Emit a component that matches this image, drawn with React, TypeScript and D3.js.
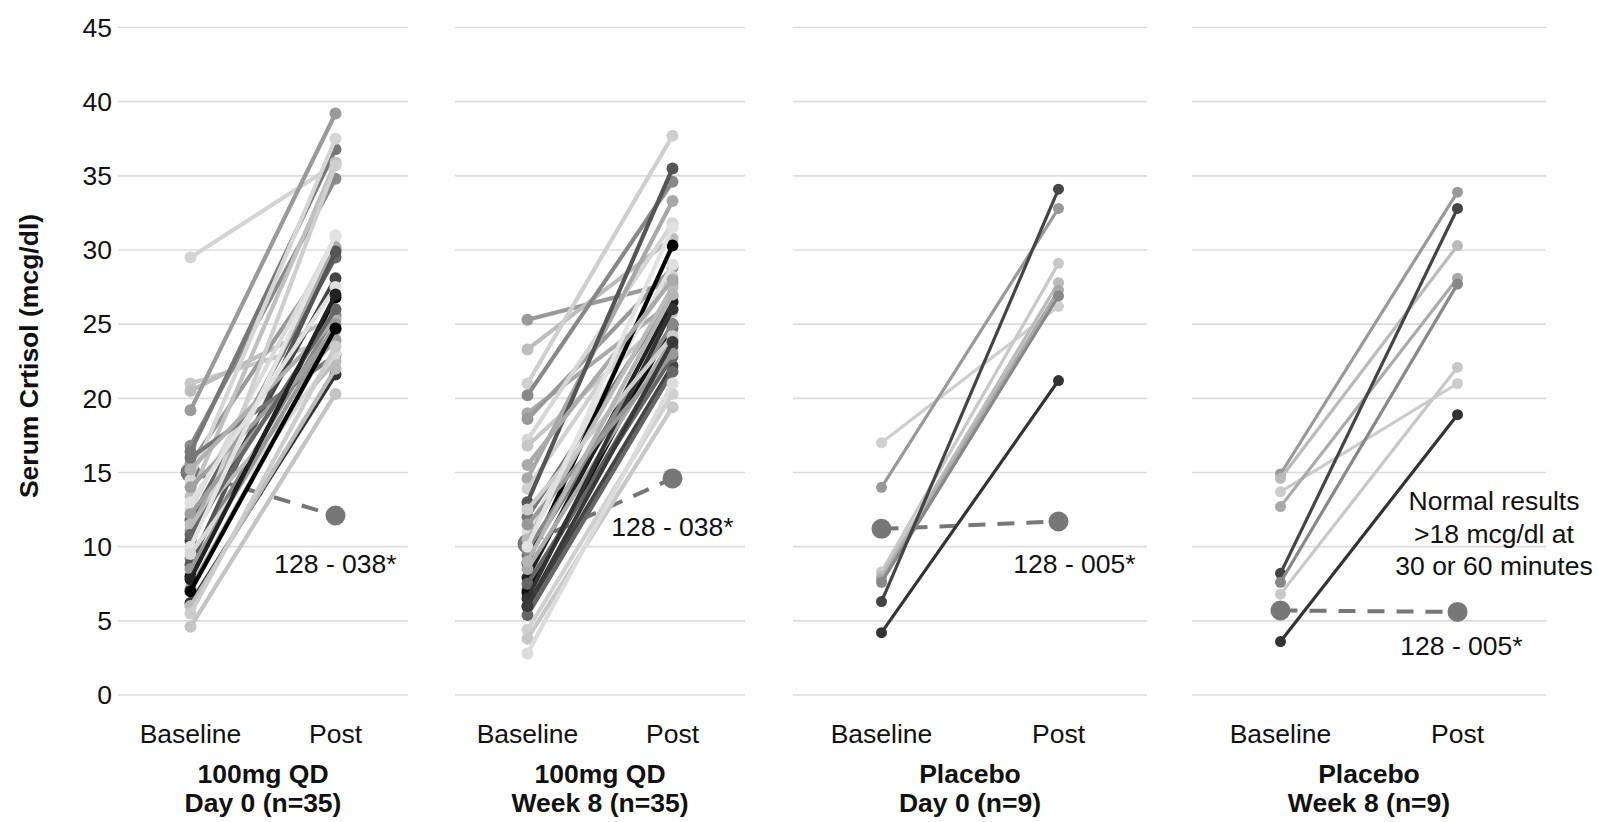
import React from 'react';
import * as d3 from 'd3';

// Serum cortisol, baseline vs post stimulation, one line per subject
const timepoints = ['Baseline', 'Post'];
const yTicks = [0, 5, 10, 15, 20, 25, 30, 35, 40, 45];

const panelTitles = [
    ['100mg QD', 'Day 0 (n=35)'],
    ['100mg QD', 'Week 8 (n=35)'],
    ['Placebo', 'Day 0 (n=9)'],
    ['Placebo', 'Week 8 (n=9)'],
];

const qdDay0Base = [29.5, 21.0, 20.5, 19.2, 16.8, 16.4, 15.6, 14.5, 13.4, 12.5, 11.8, 11.1, 10.4, 9.8, 9.2, 8.8, 8.0, 7.2, 6.2, 4.6, 16.0, 15.2, 14.0, 13.0, 12.2, 11.5, 10.8, 10.0, 9.5, 8.5, 7.8, 7.0, 6.0, 5.5];
const qdDay0Post = [35.8, 24.0, 25.5, 39.2, 34.8, 36.8, 30.0, 37.5, 35.9, 30.9, 29.5, 30.2, 28.1, 35.7, 25.6, 29.9, 26.8, 24.6, 21.6, 20.3, 22.9, 25.3, 23.9, 27.5, 24.7, 22.5, 26.0, 31.0, 23.0, 25.0, 27.0, 24.7, 22.0, 23.5];
const qdDay0Grey = ['#d4d4d4', '#c8c8c8', '#bdbdbd', '#9a9a9a', '#8a8a8a', '#777', '#999', '#d6d6d6', '#c0c0c0', '#dadada', '#666', '#aaa', '#444', '#cfcfcf', '#888', '#555', '#000', '#a0a0a0', '#333', '#c4c4c4', '#777', '#b0b0b0', '#a0a0a0', '#e0e0e0', '#9e9e9e', '#bbb', '#666', '#e2e2e2', '#d8d8d8', '#999', '#222', '#000', '#bbb', '#ccc'];

const qdWk8Base = [25.3, 23.3, 21.0, 20.2, 19.0, 18.6, 17.2, 16.8, 14.6, 13.9, 13.0, 12.0, 11.0, 9.4, 8.9, 7.9, 7.1, 6.9, 5.95, 5.4, 4.4, 3.8, 2.8, 10.5, 9.8, 8.5, 7.5, 6.5, 12.5, 15.5, 11.5, 10.0, 6.0, 9.0];
const qdWk8Post = [27.8, 30.8, 37.7, 34.6, 26.5, 28.8, 31.8, 25.8, 33.3, 28.2, 35.5, 26.9, 29.0, 24.7, 30.3, 26.5, 23.5, 25.0, 22.2, 21.8, 20.3, 19.4, 21.0, 27.5, 25.0, 24.0, 22.8, 26.0, 24.2, 28.0, 23.0, 31.5, 23.8, 27.0];
const qdWk8Grey = ['#9a9a9a', '#bdbdbd', '#cfcfcf', '#888', '#aaa', '#999', '#d6d6d6', '#c6c6c6', '#a8a8a8', '#d0d0d0', '#555', '#777', '#e0e0e0', '#777', '#000', '#222', '#555', '#111', '#444', '#666', '#d0d0d0', '#c8c8c8', '#dcdcdc', '#bbb', '#888', '#aaa', '#666', '#333', '#ccc', '#aaa', '#999', '#e2e2e2', '#3a3a3a', '#b5b5b5'];

const pboDay0Base = [17.0, 14.0, 8.3, 8.0, 7.8, 7.6, 6.3, 4.2];
const pboDay0Post = [26.2, 32.8, 29.1, 27.8, 27.3, 26.9, 34.1, 21.2];
const pboDay0Grey = ['#cfcfcf', '#999', '#c8c8c8', '#bbb', '#aaa', '#888', '#444', '#333'];

const pboWk8Base = [14.9, 14.6, 13.7, 12.7, 8.2, 7.6, 6.8, 3.6];
const pboWk8Post = [33.9, 30.3, 21.0, 28.1, 32.8, 27.7, 22.1, 18.9];
const pboWk8Grey = ['#999', '#bbb', '#ccc', '#aaa', '#444', '#888', '#c8c8c8', '#333'];

// the non-responder in each group (dashed line)
const outlierLabel = ['128 - 038*', '128 - 038*', '128 - 005*', '128 - 005*'];
const outlierBase = [15.0, 10.2, 11.2, 5.7];
const outlierPost = [12.1, 14.6, 11.7, 5.6];

const noteLines = ['Normal results', '>18 mcg/dl at', '30 or 60 minutes'];

const groups = [
    { base: qdDay0Base, post: qdDay0Post, grey: qdDay0Grey },
    { base: qdWk8Base, post: qdWk8Post, grey: qdWk8Grey },
    { base: pboDay0Base, post: pboDay0Post, grey: pboDay0Grey },
    { base: pboWk8Base, post: pboWk8Post, grey: pboWk8Grey },
];

// layout
const W = 1598;
const H = 822;
const panelX = [[118, 408], [455, 745], [793, 1147], [1192, 1546]];
const lineW = [4.2, 4.2, 3.2, 3.2];
const dotR = [6, 6, 5.5, 5.5];
const labelShift = [[0, 57], [0, 58], [16, 52], [4, 43]];
const fs = 26.5;
const font = "'Liberation Sans', Arial, Helvetica, sans-serif";

const y = d3.scaleLinear().domain([0, 45]).range([695, 27.5]);

const Panel = ({ idx }: { idx: number }) => {
    const [x0, x1] = panelX[idx];
    const x = d3.scalePoint<string>().domain(timepoints).range([x0, x1]).padding(0.5);
    const g = groups[idx];
    const pairs = g.base.map((b, i) => ({ b, p: g.post[i], c: g.grey[i] }));
    const line = d3.line<[string, number]>()
        .x((d) => x(d[0]) as number)
        .y((d) => y(d[1]));
    const xb = x('Baseline') as number;
    const xp = x('Post') as number;
    const cx = (x0 + x1) / 2;

    return (
        <g>
            {yTicks.map((t) => (
                <line key={t} x1={x0} x2={x1} y1={y(t)} y2={y(t)} stroke='#dcdcdc' strokeWidth={1.6} />
            ))}
            {/* outlier underneath the others */}
            <path
                d={line([['Baseline', outlierBase[idx]], ['Post', outlierPost[idx]]]) || ''}
                fill='none'
                stroke='#777'
                strokeWidth={4}
                strokeDasharray='17 12'
            />
            <circle cx={xb} cy={y(outlierBase[idx])} r={10} fill='#777' />
            <circle cx={xp} cy={y(outlierPost[idx])} r={10} fill='#777' />
            {pairs.map((d, i) => (
                <g key={i}>
                    <path
                        d={line([['Baseline', d.b], ['Post', d.p]]) || ''}
                        fill='none'
                        stroke={d.c}
                        strokeWidth={lineW[idx]}
                    />
                    <circle cx={xb} cy={y(d.b)} r={dotR[idx]} fill={d.c} />
                    <circle cx={xp} cy={y(d.p)} r={dotR[idx]} fill={d.c} />
                </g>
            ))}
            <text
                x={xp + labelShift[idx][0]}
                y={y(outlierPost[idx]) + labelShift[idx][1]}
                textAnchor='middle'
                fontSize={fs}
                fill='#111'
            >
                {outlierLabel[idx]}
            </text>
            {timepoints.map((t) => (
                <text key={t} x={x(t)} y={743} textAnchor='middle' fontSize={fs} fill='#111'>
                    {t}
                </text>
            ))}
            <text x={cx} y={783} textAnchor='middle' fontSize={fs} fontWeight='bold' fill='#111'>
                {panelTitles[idx][0]}
            </text>
            <text x={cx} y={812} textAnchor='middle' fontSize={fs} fontWeight='bold' fill='#111'>
                {panelTitles[idx][1]}
            </text>
        </g>
    );
};

const App = () => {
    return (
        <svg
            width={W}
            height={H}
            style={{ position: 'absolute', left: 0, top: 0, background: '#fff' }}
            fontFamily={font}
        >
            <rect width={W} height={H} fill='#fff' />
            {yTicks.map((t) => (
                <text key={t} x={112} y={y(t)} dy='0.35em' textAnchor='end' fontSize={fs} fill='#111'>
                    {t}
                </text>
            ))}
            <text
                transform={`translate(38, 356) rotate(-90)`}
                textAnchor='middle'
                fontSize={fs}
                fontWeight='bold'
                fill='#111'
            >
                Serum Crtisol (mcg/dl)
            </text>
            {groups.map((_, i) => (
                <Panel key={i} idx={i} />
            ))}
            {noteLines.map((s, i) => (
                <text key={s} x={1494} y={510 + i * 32.5} textAnchor='middle' fontSize={fs} fill='#111'>
                    {s}
                </text>
            ))}
        </svg>
    );
};

export default App;
